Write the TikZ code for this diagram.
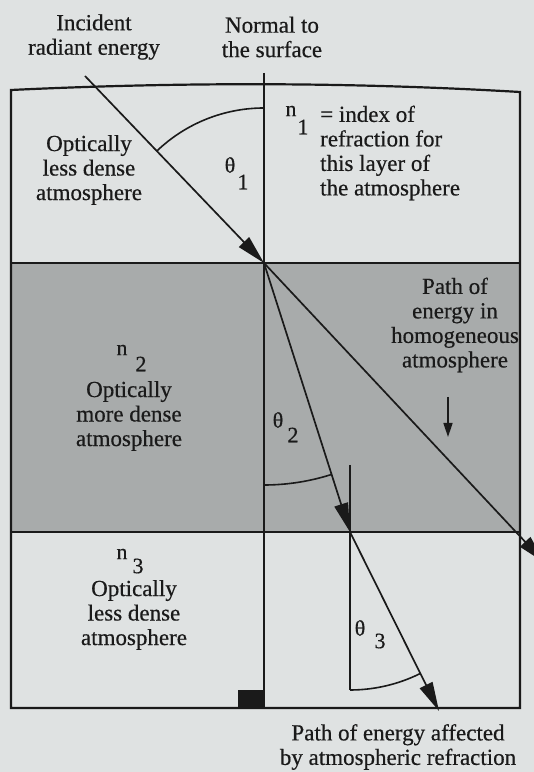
\documentclass[tikz,border=0pt]{standalone}
\usepackage{fontspec}
\setmainfont{Liberation Serif}[FakeBold=0.5]
\usetikzlibrary{arrows.meta}
\definecolor{paper}{HTML}{DFE2E2}
\definecolor{densegray}{HTML}{A8ABAB}
\definecolor{ink}{HTML}{1A1A1A}
\begin{document}
\begin{tikzpicture}[x=1pt,y=1pt,
  txt/.style={align=center,font=\fontsize{23}{24.5}\selectfont,inner sep=0pt,text=ink},
  sym/.style={font=\fontsize{22}{22}\selectfont,inner sep=0pt,text=ink},
  frame/.style={draw=ink,line width=2.2pt},
  thin/.style={draw=ink,line width=1.6pt},
  ray/.style={draw=ink,line width=1.7pt,-{Triangle[length=29pt,width=14pt]}},
  smallarrow/.style={draw=ink,line width=1.6pt,-{Triangle[length=14pt,width=9pt]}}
]
\useasboundingbox (0,0) rectangle (534,772);
\fill[paper] (0,0) rectangle (534,772);
\fill[densegray] (11,240) rectangle (520,509);
% coordinates
\coordinate (TL) at (11,682);
\coordinate (TR) at (520,680);
\coordinate (BL) at (11,64);
\coordinate (BR) at (520,64);
\coordinate (M1L) at (11,509);
\coordinate (M1R) at (520,509);
\coordinate (M2L) at (11,240);
\coordinate (M2R) at (520,240);
\coordinate (NT) at (264,699);
\coordinate (NB) at (264,64);
\coordinate (A) at (85,696);
\coordinate (O1) at (264,509);
\coordinate (O2) at (350,240);
\coordinate (E3) at (439,61);
\coordinate (H) at (545,209);
\coordinate (V2) at (350,307);
\coordinate (V3) at (350,82);
\coordinate (SA1) at (448,375);
\coordinate (SA2) at (448,335);
% frame and layers
\draw[frame] (BL) -- (TL) .. controls (180,690) and (350,690) .. (TR) -- (BR) -- cycle;
\draw[frame] (M1L) -- (M1R);
\draw[frame] (M2L) -- (M2R);
\draw[thin] (NT) -- (NB);
\fill[ink] (238,64) rectangle (264,82);
% rays
\draw[ray] (A) -- (O1);
\draw[ray] (O1) -- (O2);
\draw[ray] (O2) -- (E3);
\draw[ray] (O1) -- (H);
\draw[thin] (V2) -- (V3);
\draw[smallarrow] (SA1) -- (SA2);
% angle arcs
\draw[thin] (O1) ++(90:155) arc[start angle=90,end angle=133.7,radius=155];
\draw[thin] (O1) ++(270:222) arc[start angle=270,end angle=287.7,radius=222];
\draw[thin] (O2) ++(270:158) arc[start angle=270,end angle=296.4,radius=158];
% texts
\node[txt] (inc) at (94,735) {Incident\\radiant energy};
\node[txt] (nor) at (272,735) {Normal to\\the surface};
\node[txt] (l1) at (89,602) {Optically\\less dense\\atmosphere};
\node[sym] (n1) at (291,661) {n};
\node[sym] (n1s) at (303,645) {1};
\node[txt,align=left,anchor=west] (idx) at (320,619) {= index of\\refraction for\\this layer of\\the atmosphere};
\node[sym] (t1) at (230,607) {θ};
\node[sym] (t1s) at (243,590) {1};
\node[txt] (hom) at (455,447) {Path of\\energy in\\homogeneous\\atmosphere};
\node[sym] (n2) at (122,422) {n};
\node[sym] (n2s) at (141,408) {2};
\node[txt] (l2) at (129,356) {Optically\\more dense\\atmosphere};
\node[sym] (t2) at (278,352) {θ};
\node[sym] (t2s) at (293,337) {2};
\node[sym] (n3) at (122,218) {n};
\node[sym] (n3s) at (138,206) {3};
\node[txt] (l3) at (134,157) {Optically\\less dense\\atmosphere};
\node[sym] (t3) at (360,144) {θ};
\node[sym] (t3s) at (380,131) {3};
\node[txt] (aff) at (398,25) {Path of energy affected\\by atmospheric refraction};
\end{tikzpicture}
\end{document}
